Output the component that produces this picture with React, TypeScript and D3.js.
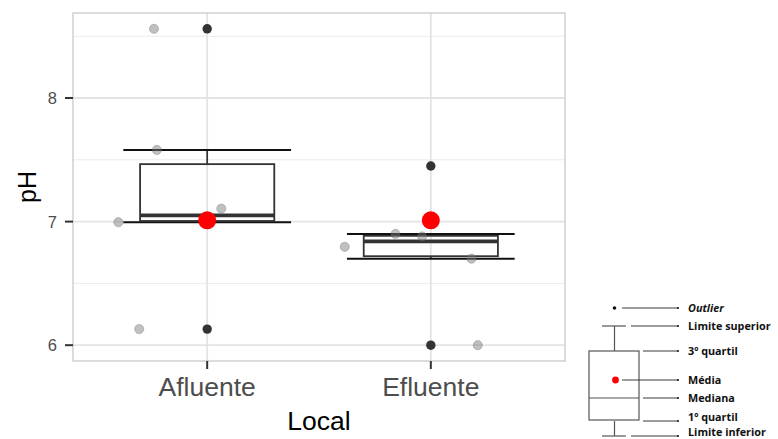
import React from "react";
import * as d3 from "d3";

// dados
const locais = ["Afluente", "Efluente"];
const limiteInferior = [6.995, 6.70];
const quartil1 = [7.005, 6.72];
const mediana = [7.05, 6.84];
const quartil3 = [7.465, 6.885];
const limiteSuperior = [7.58, 6.90];
const media = [7.01, 7.01];
const outliers = [[8.56, 6.13], [7.45, 6.0]];
const observacoes = [
  [8.56, 7.58, 7.105, 6.995, 6.13],
  [6.796, 6.90, 6.88, 6.70, 6.0],
];
const jitter = [
  [-0.238, -0.225, 0.063, -0.397, -0.304],
  [-0.385, -0.158, -0.039, 0.182, 0.21],
];
const yTicks = [6, 7, 8];
const yMinor = [6.5, 7.5, 8.5];
const legendaItens = ["Outlier", "Limite superior", "3º quartil", "Média", "Mediana", "1º quartil", "Limite inferior"];

const width = 778;
const height = 439;
const margin = { top: 13, right: 213, bottom: 78, left: 73 };
const font = "Liberation Sans, Arial, sans-serif";

const App = () => {
  const allValues = observacoes.flat().concat(outliers.flat());
  const [lo, hi] = d3.extent(allValues) as [number, number];
  const pad = (hi - lo) * 0.05;

  const x = d3.scalePoint<string>()
    .domain(locais)
    .range([margin.left, width - margin.right])
    .padding(0.6);
  const step = x.step();
  const y = d3.scaleLinear()
    .domain([lo - pad, hi + pad])
    .range([height - margin.bottom, margin.top]);

  const px0 = margin.left;
  const px1 = width - margin.right;
  const py0 = margin.top;
  const py1 = height - margin.bottom;

  // legenda (esquema do boxplot)
  const lg = { left: 589, right: 639, mid: 614.5, lineEnd: 678, textX: 688 };
  const legendaY = [308, 326, 351, 380, 398, 421, 436];
  const textoY = [308, 326, 351, 380, 398, 417.5, 432.5];
  const lineStarts = [622, 631, 643, 622, 643, 643, 631];

  return (
    <svg width={width} height={height} style={{ position: "absolute", left: 0, top: 0 }} fontFamily={font}>
      <rect x={0} y={0} width={width} height={height} fill="white" />
      {/* grid */}
      {yMinor.map(v => (
        <line key={"ym" + v} x1={px0} x2={px1} y1={y(v)} y2={y(v)} stroke="#ebebeb" strokeWidth={1} />
      ))}
      {yTicks.map(v => (
        <line key={"yg" + v} x1={px0} x2={px1} y1={y(v)} y2={y(v)} stroke="#e4e4e4" strokeWidth={1.8} />
      ))}
      {locais.map(l => (
        <line key={"xg" + l} x1={x(l)} x2={x(l)} y1={py0} y2={py1} stroke="#e4e4e4" strokeWidth={1.8} />
      ))}

      {/* boxes */}
      {locais.map((l, i) => {
        const cx = x(l)!;
        const bw = step * 0.6;
        const cw = step * 0.75;
        return (
          <g key={"box" + l}>
            <line x1={cx} x2={cx} y1={y(quartil3[i])} y2={y(limiteSuperior[i])} stroke="#333" strokeWidth={1.7} />
            <line x1={cx} x2={cx} y1={y(quartil1[i])} y2={y(limiteInferior[i])} stroke="#333" strokeWidth={1.7} />
            <line x1={cx - cw / 2} x2={cx + cw / 2} y1={y(limiteSuperior[i])} y2={y(limiteSuperior[i])} stroke="#111" strokeWidth={1.9} />
            <line x1={cx - cw / 2} x2={cx + cw / 2} y1={y(limiteInferior[i])} y2={y(limiteInferior[i])} stroke="#111" strokeWidth={1.9} />
            <rect x={cx - bw / 2} y={y(quartil3[i])} width={bw} height={y(quartil1[i]) - y(quartil3[i])}
              fill="none" stroke="#333" strokeWidth={1.8} />
            <line x1={cx - bw / 2} x2={cx + bw / 2} y1={y(mediana[i])} y2={y(mediana[i])} stroke="#333" strokeWidth={3.8} />
          </g>
        );
      })}

      {/* observações com jitter */}
      {observacoes.map((obs, i) => obs.map((v, j) => (
        <circle key={"o" + i + "-" + j} cx={x(locais[i])! + jitter[i][j] * step} cy={y(v)} r={4.6}
          fill="#7a7a7a" fillOpacity={0.47} stroke="#666" strokeOpacity={0.4} strokeWidth={0.8} />
      )))}

      {/* outliers */}
      {outliers.map((vals, i) => vals.map((v, j) => (
        <circle key={"out" + i + "-" + j} cx={x(locais[i])} cy={y(v)} r={4.7} fill="#333" />
      )))}

      {/* médias */}
      {media.map((v, i) => (
        <circle key={"m" + i} cx={x(locais[i])} cy={y(v)} r={9} fill="#ff0000" />
      ))}

      {/* borda do painel */}
      <rect x={px0} y={py0} width={px1 - px0} height={py1 - py0} fill="none" stroke="#c9c9c9" strokeWidth={1.3} />

      {/* eixo y */}
      {yTicks.map(v => (
        <g key={"yt" + v}>
          <line x1={px0 - 8} x2={px0} y1={y(v)} y2={y(v)} stroke="#333" strokeWidth={2} />
          <text x={px0 - 16} y={y(v)} dy="0.36em" textAnchor="end" fontSize={16.5} fill="#4d4d4d">{v}</text>
        </g>
      ))}
      {/* eixo x */}
      {locais.map(l => (
        <g key={"xt" + l}>
          <line x1={x(l)} x2={x(l)} y1={py1} y2={py1 + 8} stroke="#333" strokeWidth={2} />
          <text x={x(l)} y={396} textAnchor="middle" fontSize={26.5} fill="#4d4d4d">{l}</text>
        </g>
      ))}
      <text x={(px0 + px1) / 2} y={430} textAnchor="middle" fontSize={26.5} fill="#000">Local</text>
      <text transform={`translate(36, ${(py0 + py1) / 2}) rotate(-90)`} textAnchor="middle" fontSize={25} fill="#000">pH</text>

      {/* legenda */}
      <g>
        <circle cx={lg.mid} cy={legendaY[0]} r={1.8} fill="#111" />
        <line x1={lg.mid} x2={lg.mid} y1={legendaY[1]} y2={legendaY[2]} stroke="#555" strokeWidth={1.2} />
        <line x1={lg.mid} x2={lg.mid} y1={legendaY[5]} y2={legendaY[6]} stroke="#555" strokeWidth={1.2} />
        <line x1={602} x2={626} y1={legendaY[1]} y2={legendaY[1]} stroke="#555" strokeWidth={1.2} />
        <line x1={602} x2={626} y1={legendaY[6]} y2={legendaY[6]} stroke="#555" strokeWidth={1.2} />
        <rect x={lg.left} y={legendaY[2]} width={lg.right - lg.left} height={legendaY[5] - 1 - legendaY[2]} fill="none" stroke="#555" strokeWidth={1.2} />
        <line x1={lg.left} x2={lg.right} y1={legendaY[4]} y2={legendaY[4]} stroke="#555" strokeWidth={1.2} />
        <circle cx={615.5} cy={legendaY[3]} r={3.4} fill="#ff0000" />
        {legendaItens.map((t, i) => (
          <g key={"lg" + t}>
            <line x1={lineStarts[i]} x2={lg.lineEnd} y1={legendaY[i]} y2={legendaY[i]} stroke="#3a3a3a" strokeWidth={1} />
            <circle cx={lg.lineEnd} cy={legendaY[i]} r={1.1} fill="#222" />
            <text x={lg.textX} y={textoY[i]} dy="0.36em" fontSize={10.8} fontWeight={700}
              fontStyle={i === 0 ? "italic" : "normal"} fill="#111" fontFamily="Open Sans, sans-serif">{t}</text>
          </g>
        ))}
      </g>
    </svg>
  );
};

export default App;
